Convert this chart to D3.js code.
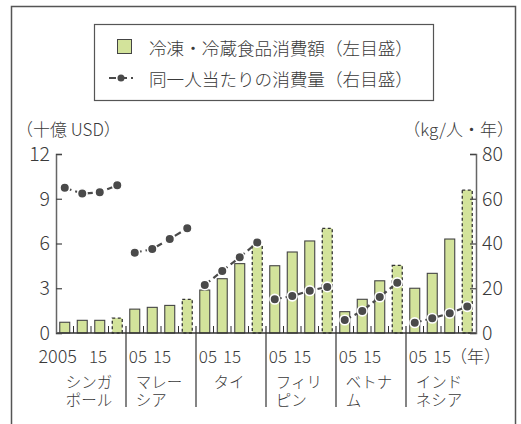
<!DOCTYPE html>
<html>
<head>
<meta charset="utf-8">
<script src="https://cdn.jsdelivr.net/npm/d3@7"></script>
<style>
  body { margin: 0; background: #fff; }
  svg text { font-family: "Noto Sans CJK JP", "Noto Sans", sans-serif; font-weight: 300; fill: #3a3a3a; }
</style>
</head>
<body>
<div id="chart"></div>
<script>
// data
const countries = ["シンガポール", "マレーシア", "タイ", "フィリピン", "ベトナム", "インドネシア"];
const nameLines = [["シンガ", "ポール"], ["マレー", "シア"], ["タイ"], ["フィリ", "ピン"], ["ベトナ", "ム"], ["インド", "ネシア"]];
const years = ["2005", "2010", "2015", "2020"];
const yearLabels = [["2005", "15"], ["05", "15"], ["05", "15"], ["05", "15"], ["05", "15"], ["05", "15"]];
// frozen/chilled food spending, billion USD (last year = forecast)
const spending = [
  [0.72, 0.85, 0.85, 1.0],
  [1.6, 1.72, 1.85, 2.26],
  [2.88, 3.64, 4.65, 5.9],
  [4.51, 5.43, 6.17, 7.02],
  [1.43, 2.26, 3.5, 4.54],
  [3.0, 4.0, 6.3, 9.58]
];
// consumption per person, kg/person/year
const perCapita = [
  [64.9, 62.3, 62.9, 66.0],
  [35.9, 37.5, 42.0, 46.8],
  [21.5, 27.7, 33.8, 40.5],
  [15.1, 16.5, 18.9, 20.6],
  [5.8, 9.8, 16.1, 22.5],
  [4.6, 6.6, 8.8, 11.8]
];
const leftTicks = [0, 3, 6, 9, 12];
const rightTicks = [0, 20, 40, 60, 80];

const width = 521, height = 424;
const margin = {top: 154, right: 45, bottom: 91, left: 56};
const green = "#d3e39b", dark = "#4a4a4a";

const svg = d3.select("#chart").append("svg")
  .attr("width", width).attr("height", height);

// frame
svg.append("rect")
  .attr("x", 11.5).attr("y", 6.5).attr("width", 504).attr("height", 430)
  .attr("fill", "none").attr("stroke", "#555").attr("stroke-width", 1.5);

const x = d3.scaleBand().domain(countries).range([margin.left, width - margin.right]);
const xi = d3.scaleBand().domain(years).range([0, x.bandwidth()]).paddingInner(0.43).paddingOuter(0.215);
const y = d3.scaleLinear().domain([0, 12]).range([height - margin.bottom, margin.top]);
const y2 = d3.scaleLinear().domain([0, 80]).range([height - margin.bottom, margin.top]);
const base = y(0);

// legend
const lg = svg.append("g");
lg.append("rect").attr("x", 94.5).attr("y", 24.5).attr("width", 339).attr("height", 76)
  .attr("fill", "#fff").attr("stroke", "#555").attr("stroke-width", 1.2);
lg.append("rect").attr("x", 117.5).attr("y", 39.5).attr("width", 14).attr("height", 14)
  .attr("fill", green).attr("stroke", "#444").attr("stroke-width", 1);
lg.append("text").attr("x", 149).attr("y", 47).attr("dominant-baseline", "central")
  .attr("font-size", 17.6).text("冷凍・冷蔵食品消費額（左目盛）");
lg.append("line").attr("x1", 109).attr("x2", 133).attr("y1", 78).attr("y2", 78)
  .attr("stroke", dark).attr("stroke-width", 2).attr("stroke-dasharray", "7,4");
lg.append("circle").attr("cx", 121).attr("cy", 78).attr("r", 3.5).attr("fill", dark);
lg.append("text").attr("x", 149).attr("y", 78).attr("dominant-baseline", "central")
  .attr("font-size", 17.6).text("同一人当たりの消費量（右目盛）");

// axis titles
svg.append("text").attr("x", 16).attr("y", 128).attr("dominant-baseline", "central")
  .attr("font-size", 17).text("（十億 USD）");
svg.append("text").attr("x", 514).attr("y", 128).attr("dominant-baseline", "central")
  .attr("text-anchor", "end").attr("font-size", 17).text("（kg/人・年）");

// bars
const groups = svg.append("g").selectAll("g")
  .data(countries)
  .join("g")
  .attr("transform", d => `translate(${x(d)},0)`);

groups.selectAll("rect")
  .data((d, i) => spending[i].map((v, j) => ({year: years[j], v: v, forecast: j == 3})))
  .join("rect")
  .attr("x", d => xi(d.year))
  .attr("width", xi.bandwidth())
  .attr("y", d => y(d.v))
  .attr("height", d => base - y(d.v))
  .attr("fill", green)
  .attr("stroke", d => d.forecast ? "#333" : "#444")
  .attr("stroke-width", d => d.forecast ? 1.3 : 1.1)
  .attr("stroke-dasharray", d => d.forecast ? "3,2.5" : null);

// small ticks between years
groups.selectAll("line.yt")
  .data(years.slice(1))
  .join("line")
  .attr("class", "yt")
  .attr("x1", d => xi(d) - xi.step() * xi.paddingInner() / 2)
  .attr("x2", d => xi(d) - xi.step() * xi.paddingInner() / 2)
  .attr("y1", base - 7).attr("y2", base)
  .attr("stroke", "#333").attr("stroke-width", 1);

// baseline
svg.append("line").attr("x1", margin.left).attr("x2", width - margin.right)
  .attr("y1", base).attr("y2", base).attr("stroke", "#333").attr("stroke-width", 1.5);

// group separators
svg.append("g").selectAll("line")
  .data(countries.slice(1))
  .join("line")
  .attr("x1", d => x(d)).attr("x2", d => x(d))
  .attr("y1", base - 7).attr("y2", 407)
  .attr("stroke", "#333").attr("stroke-width", 1.2);

// lines
const line = d3.line()
  .x((d, j) => xi(years[j]) + xi.bandwidth() / 2)
  .y(d => y2(d));

groups.append("path")
  .attr("d", (d, i) => line(perCapita[i]))
  .attr("fill", "none").attr("stroke", dark).attr("stroke-width", 2.2)
  .attr("stroke-dasharray", "7,4");

groups.selectAll("circle")
  .data((d, i) => perCapita[i].map((v, j) => ({year: years[j], v: v})))
  .join("circle")
  .attr("cx", d => xi(d.year) + xi.bandwidth() / 2)
  .attr("cy", d => y2(d.v))
  .attr("r", 4.8)
  .attr("fill", dark).attr("stroke", "#fff").attr("stroke-width", 1.6);

// axes
const leftAxis = svg.append("g")
  .attr("transform", `translate(${margin.left},0)`)
  .call(d3.axisLeft(y).tickValues(leftTicks).tickSize(-6).tickSizeOuter(-6).tickPadding(6));
const rightAxis = svg.append("g")
  .attr("transform", `translate(${width - margin.right},0)`)
  .call(d3.axisRight(y2).tickValues(rightTicks).tickSize(-6).tickSizeOuter(-6).tickPadding(6));
[leftAxis, rightAxis].forEach(a => {
  a.select(".domain").attr("stroke", "#666").attr("stroke-width", 1.5);
  a.selectAll(".tick line").attr("stroke", "#444").attr("stroke-width", 1.2);
  a.selectAll(".tick text").attr("font-size", 19.5).attr("fill", "#3a3a3a")
    .style("font-family", "'Noto Sans CJK JP', sans-serif").style("font-weight", 300);
});

// x labels
const lab = svg.append("g");
countries.forEach((c, i) => {
  const x0 = x(c);
  lab.append("text").attr("x", x0 + 21).attr("y", 355).attr("text-anchor", "end")
    .attr("dominant-baseline", "central").attr("font-size", i == 0 ? 18 : 17).text(yearLabels[i][0]);
  lab.append("text").attr("x", x0 + (i == 0 ? 33 : 27)).attr("y", 355)
    .attr("dominant-baseline", "central").attr("font-size", 17).text(yearLabels[i][1]);
  const maxLen = d3.max(nameLines[i], s => s.length);
  const sx = x0 + x.bandwidth() / 2 - maxLen * 15.5 / 2 - 2;
  const t = lab.append("text").attr("font-size", 15.5);
  nameLines[i].forEach((s, k) => {
    t.append("tspan").attr("x", sx).attr("y", 381 + k * 17.5)
      .attr("dominant-baseline", "central").text(s);
  });
});
lab.append("text").attr("x", x(countries[5]) + 44).attr("y", 355)
  .attr("dominant-baseline", "central").attr("font-size", 17).text("（年）");
</script>
</body>
</html>
